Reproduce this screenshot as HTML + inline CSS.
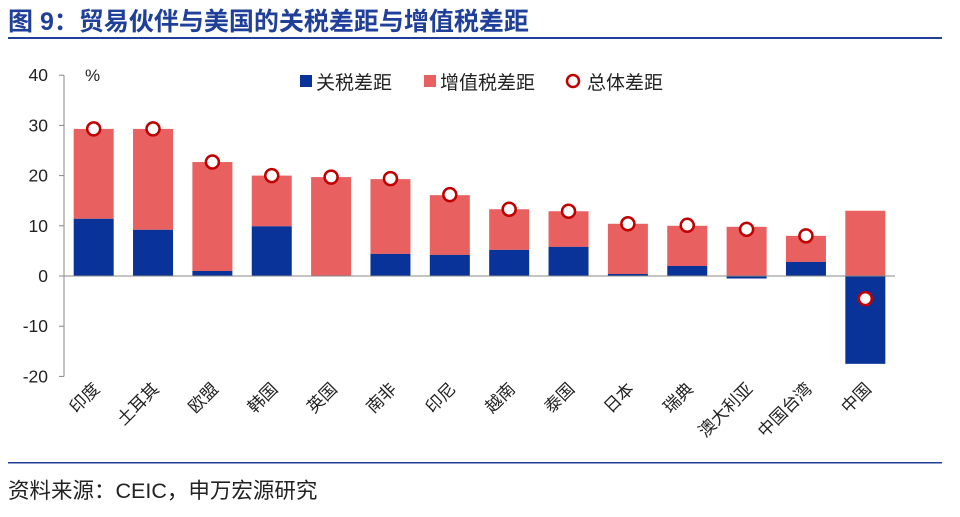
<!DOCTYPE html>
<html><head><meta charset="utf-8"><style>
body{margin:0;width:960px;height:512px;background:#fff;overflow:hidden;font-family:"Liberation Sans","Noto Sans CJK SC",sans-serif}
svg text{font-family:"Liberation Sans","Noto Sans CJK SC",sans-serif}
</style></head><body>
<svg width="960" height="512">
<text x="8" y="30" font-size="25" font-weight="bold" fill="#1F3F99">图 9：贸易伙伴与美国的关税差距与增值税差距</text>
<rect x="8" y="37" width="934" height="2" fill="#1F3F99"/>
<rect x="8" y="462" width="934" height="1.5" fill="#1F3F99"/>
<text x="8" y="498" font-size="21.5" fill="#222">资料来源：CEIC，申万宏源研究</text>
<g id="plot"></g>
</svg>
<script>
const categories=["印度","土耳其","欧盟","韩国","英国","南非","印尼","越南","泰国","日本","瑞典","澳大利亚","中国台湾","中国"];
const tariffGap=[11.4,9.2,1.0,9.9,0,4.4,4.2,5.2,5.8,0.4,2.0,-0.5,2.8,-17.5];
const vatGap=[17.9,20.1,21.7,10.1,19.7,14.9,11.9,8.1,7.1,10.0,8.0,9.8,5.2,13.0];
const totalGap=[29.3,29.3,22.7,20.0,19.7,19.4,16.2,13.3,12.9,10.4,10.1,9.3,8.0,-4.5];
const yTicks=[40,30,20,10,0,-10,-20];
const NS="http://www.w3.org/2000/svg";
const g=document.getElementById('plot');
const y0=276,pxPer=5.02,x0=64,x1=895;
const y=v=>y0-v*pxPer;
const step=(x1-x0)/categories.length;
const xc=i=>x0+step*(i+0.5);
function mk(t,a,p){const e=document.createElementNS(NS,t);for(const k in a)e.setAttribute(k,a[k]);(p||g).appendChild(e);return e;}
let e=mk('line',{x1:x0,y1:y(40),x2:x0,y2:y(-20),stroke:'#888'});


yTicks.forEach(t=>{
 let l=mk('line',{x1:x0-5,y1:y(t),x2:x0,y2:y(t),stroke:'#888'});
 
 
 let tx=mk('text',{x:x0-16,y:y(t)+6,'text-anchor':'end','font-size':17.5,fill:'#222'});
 tx.textContent=t;
 
 
});
let pc=mk('text',{x:85,y:81,'font-size':17,fill:'#222'});pc.textContent='%';


const bw=40;
categories.forEach((c,i)=>{
 const t=tariffGap[i],v=vatGap[i],base=Math.max(t,0);
 let r=mk('rect',{x:xc(i)-bw/2,y:y(base+v),width:bw,height:v*pxPer,fill:'#E8605F'});
 
 
 let b=mk('rect',{x:xc(i)-bw/2,y:Math.min(y(t),y0),width:bw,height:Math.abs(t)*pxPer,fill:'#0A3399'});
 
 
});
let xa=mk('line',{x1:x0,y1:y0,x2:x1,y2:y0,stroke:'#888'});


categories.forEach((c,i)=>{
 let m=mk('circle',{cx:xc(i),cy:y(totalGap[i]),r:6.5,fill:'#fff',stroke:'#C00000','stroke-width':2.5});
 
 
 let tx=mk('text',{x:xc(i)+7,y:390,'text-anchor':'end','font-size':17,fill:'#222',transform:`rotate(-45 ${xc(i)+7} 390)`});
 tx.textContent=c;
 
 
});
const lg=mk('g',{});


let a=mk('rect',{x:300,y:75,width:12,height:12,fill:'#0A3399'},lg);


let at=mk('text',{x:316,y:89,'font-size':19,fill:'#222'},lg);at.textContent='关税差距';


let bsw=mk('rect',{x:424,y:75,width:12,height:12,fill:'#E8605F'},lg);


let bt=mk('text',{x:440,y:89,'font-size':19,fill:'#222'},lg);bt.textContent='增值税差距';


let cc=mk('circle',{cx:573,cy:81,r:6,fill:'#fff',stroke:'#C00000','stroke-width':2.5},lg);


let ct=mk('text',{x:587,y:89,'font-size':19,fill:'#222'},lg);ct.textContent='总体差距';


</script>
</body></html>
